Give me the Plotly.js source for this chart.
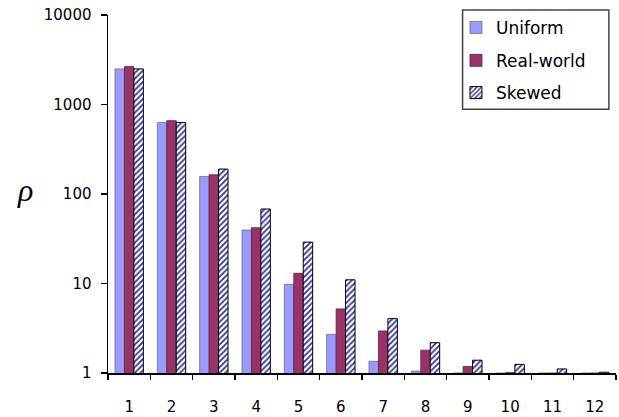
<!DOCTYPE html>
<html>
<head>
<meta charset="utf-8">
<script src="https://cdn.plot.ly/plotly-3.0.1.min.js"></script>
<style>
  html, body { margin: 0; padding: 0; background: #fff; }
  #chart { width: 619px; height: 417px; }
</style>
</head>
<body>
<div id="chart"></div>
<script>
// Query length categories
var categories = ['1', '2', '3', '4', '5', '6', '7', '8', '9', '10', '11', '12'];

// Ratio values per distribution
var uniformValues   = [2500, 630, 157, 39.5, 9.8, 2.7, 1.35, 1.05, 1.0, 1.0, 1.0, 1.0];
var realWorldValues = [2650, 660, 164, 42, 13, 5.2, 2.95, 1.8, 1.18, 1.01, 1.0, 1.0];
var skewedValues    = [2500, 630, 190, 68, 29, 11, 4.05, 2.18, 1.39, 1.25, 1.11, 1.02];

// Log axis tick labels
var yTickValues = [1, 10, 100, 1000, 10000];
var yTickLabels = ['1', '10', '100', '1000', '10000'];

var FONT = 'DejaVu Sans, Arial, sans-serif';

var traces = [
  {
    type: 'bar', name: 'Uniform', x: categories, y: uniformValues,
    marker: { color: '#9a9aff', line: { color: '#6a6a9a', width: 0.8 } },
    legend: 'legend'
  },
  {
    type: 'bar', name: 'Real-world', x: categories, y: realWorldValues,
    marker: { color: '#993366', line: { color: '#5a2040', width: 0.8 } },
    legend: 'legend2'
  },
  {
    type: 'bar', name: 'Skewed', x: categories, y: skewedValues,
    marker: {
      color: '#ffffff',
      pattern: { shape: '/', fgcolor: '#333399', bgcolor: '#ffffff', size: 4, solidity: 0.45 },
      line: { color: '#000000', width: 1 }
    },
    legend: 'legend3'
  }
];

function legendAt(yPos) {
  return {
    x: 0.685, y: yPos, xanchor: 'left', yanchor: 'middle',
    bgcolor: 'rgba(0,0,0,0)', borderwidth: 0,
    font: { family: FONT, size: 17, color: '#000' },
    itemclick: false, itemdoubleclick: false
  };
}

var layout = {
  width: 619, height: 417,
  margin: { l: 108, r: 3, t: 15, b: 44 },
  paper_bgcolor: '#ffffff', plot_bgcolor: '#ffffff',
  barmode: 'group', bargap: 0.33, bargroupgap: 0,
  showlegend: true,
  legend: legendAt(0.964),
  legend2: legendAt(0.872),
  legend3: legendAt(0.782),
  xaxis: {
    type: 'category', range: [-0.5, 11.5],
    showline: true, linecolor: '#000', linewidth: 1.5,
    ticks: 'outside', tickson: 'boundaries', ticklen: 5, tickwidth: 1.5, tickcolor: '#000',
    showgrid: false, zeroline: false,
    ticklabelstandoff: 19,
    tickfont: { family: FONT, size: 15, color: '#000' }
  },
  yaxis: {
    type: 'log', range: [0, 4],
    tickvals: yTickValues, ticktext: yTickLabels,
    showline: true, linecolor: '#000', linewidth: 1.5,
    ticks: 'outside', ticklen: 6, tickwidth: 1.5, tickcolor: '#000',
    showgrid: false, zeroline: false,
    ticklabelstandoff: 6,
    tickfont: { family: FONT, size: 15, color: '#000' }
  },
  shapes: [
    {
      type: 'rect', xref: 'paper', yref: 'paper', layer: 'above',
      x0: 0.698, x1: 0.986, y0: 0.737, y1: 1.014,
      line: { color: '#444', width: 1.5 }, fillcolor: 'rgba(0,0,0,0)'
    }
  ],
  annotations: [
    {
      xref: 'paper', yref: 'paper', x: -0.183, y: 0.51,
      text: '<i>ρ</i>', showarrow: false,
      font: { family: 'Liberation Serif, serif', size: 32, color: '#000' }
    }
  ]
};

Plotly.newPlot('chart', traces, layout, { staticPlot: true, displayModeBar: false });
</script>
</body>
</html>
